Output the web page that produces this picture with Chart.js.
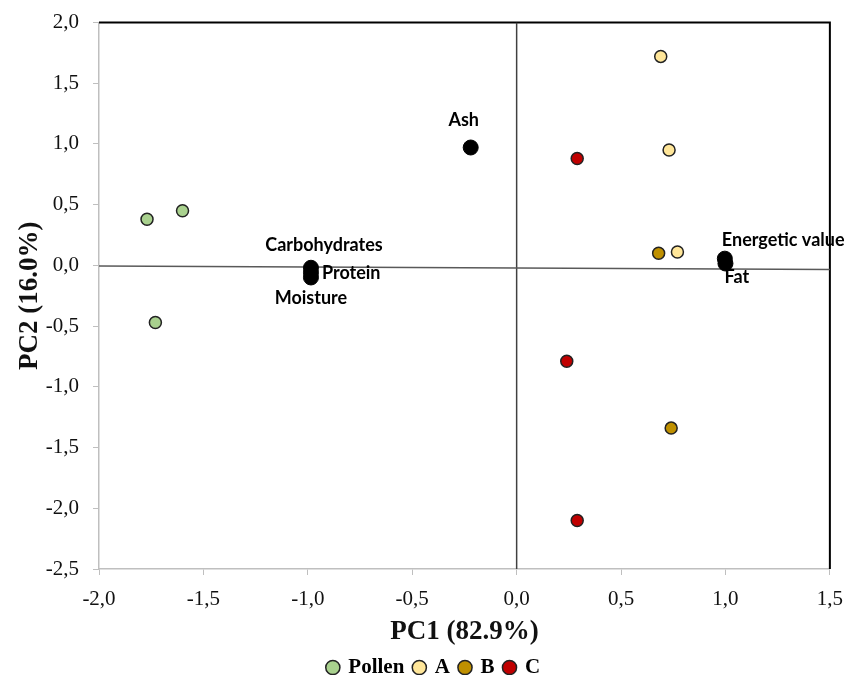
<!DOCTYPE html>
<html>
<head>
<meta charset="utf-8">
<script src="https://cdn.jsdelivr.net/npm/chart.js@4.4.1/dist/chart.umd.min.js"></script>
<style>
  html, body { margin: 0; padding: 0; background: #fff; }
  #wrap { width: 855px; height: 675px; }
</style>
</head>
<body>
<div id="wrap"><canvas id="pca" width="855" height="675"></canvas></div>
<script>
// sample scores (PC1, PC2)
const pollenX = [-1.77, -1.60, -1.73];
const pollenY = [0.38, 0.45, -0.47];
const aX = [0.69, 0.73, 0.77];
const aY = [1.72, 0.95, 0.11];
const bX = [0.68, 0.74];
const bY = [0.10, -1.34];
const cX = [0.29, 0.24, 0.29];
const cY = [0.88, -0.79, -2.10];

// variable loadings
const varNames = ["Ash", "Carbohydrates", "Protein", "Moisture", "Energetic value", "Fat"];
const varX = [-0.22, -0.985, -0.985, -0.985, 0.997, 1.0];
const varY = [0.97, -0.02, -0.06, -0.10, 0.055, 0.015];

const xTicks = [-2.0, -1.5, -1.0, -0.5, 0.0, 0.5, 1.0, 1.5];
const yTicks = [2.0, 1.5, 1.0, 0.5, 0.0, -0.5, -1.0, -1.5, -2.0, -2.5];

function pts(xs, ys) {
  return xs.map((x, i) => ({ x: x, y: ys[i] }));
}

function comma(v) {
  return v.toFixed(1).replace(".", ",");
}

// label placement around each loading point: [dx, dy, align]
const labelPos = [
  [-7, -27, "center"],
  [13, -23, "center"],
  [11, 1, "left"],
  [0, 21, "center"],
  [-3, -18, "left"],
  [-1, 14, "left"]
];

const serif = "'Liberation Serif', 'Times New Roman', serif";
const sans = "Lato, 'Open Sans', sans-serif";

const loadingLabels = {
  id: "loadingLabels",
  afterDatasetsDraw(chart) {
    const ctx = chart.ctx;
    const idx = chart.data.datasets.findIndex(d => d.label === "Variables");
    const meta = chart.getDatasetMeta(idx);
    ctx.save();
    ctx.font = "bold 18px " + sans;
    ctx.fillStyle = "#000";
    ctx.textBaseline = "middle";
    meta.data.forEach((el, i) => {
      const p = labelPos[i];
      ctx.textAlign = p[2];
      ctx.fillText(varNames[i], el.x + p[0], el.y + p[1]);
    });
    ctx.restore();
  }
};

// black frame on top and right of the plot area
const frame = {
  id: "frame",
  beforeDatasetsDraw(chart) {
    const a = chart.chartArea;
    const ctx = chart.ctx;
    ctx.save();
    ctx.strokeStyle = "#000";
    ctx.lineWidth = 2;
    ctx.beginPath();
    ctx.moveTo(a.left, a.top);
    ctx.lineTo(a.right, a.top);
    ctx.lineTo(a.right, a.bottom);
    ctx.stroke();
    ctx.restore();
  }
};

const pointStyle = (color) => ({
  backgroundColor: color,
  borderColor: "#222",
  borderWidth: 1.5,
  pointRadius: 6,
  pointHoverRadius: 6,
  showLine: false,
  order: 1
});

new Chart(document.getElementById("pca"), {
  type: "scatter",
  data: {
    datasets: [
      Object.assign({ label: "Pollen", data: pts(pollenX, pollenY) }, pointStyle("#a9d18e")),
      Object.assign({ label: "A", data: pts(aX, aY) }, pointStyle("#ffe699")),
      Object.assign({ label: "B", data: pts(bX, bY) }, pointStyle("#bf9000")),
      Object.assign({ label: "C", data: pts(cX, cY) }, pointStyle("#c00000")),
      {
        label: "Variables",
        data: pts(varX, varY),
        backgroundColor: "#000",
        borderColor: "#000",
        pointRadius: 7.5,
        showLine: false,
        order: 0
      },
      {
        label: "hline",
        data: [{ x: -2.0, y: -0.005 }, { x: 1.5, y: -0.035 }],
        showLine: true,
        borderColor: "#595959",
        borderWidth: 1.5,
        pointRadius: 0,
        order: 5
      },
      {
        label: "vline",
        data: [{ x: 0, y: 2.0 }, { x: 0, y: -2.5 }],
        showLine: true,
        borderColor: "#404040",
        borderWidth: 1.5,
        pointRadius: 0,
        order: 5
      }
    ]
  },
  options: {
    responsive: false,
    animation: false,
    layout: { padding: { top: 8, right: 25, left: 38, bottom: -13 } },
    plugins: {
      tooltip: { enabled: false },
      legend: {
        position: "bottom",
        labels: {
          filter: (item) => ["Pollen", "A", "B", "C"].includes(item.text),
          usePointStyle: true,
          pointStyle: "circle",
          boxWidth: 10,
          boxHeight: 10,
          padding: 10,
          color: "#000",
          font: { family: serif, size: 21, weight: "bold" }
        }
      }
    },
    scales: {
      x: {
        type: "linear",
        min: -2.0,
        max: 1.5,
        afterBuildTicks: (s) => { s.ticks = xTicks.map(v => ({ value: v })); },
        afterFit: (s) => { s.height = 78; },
        border: { color: "#bfbfbf", width: 1.5 },
        grid: { drawOnChartArea: false, drawTicks: true, tickLength: 6, color: "#bfbfbf" },
        ticks: {
          callback: (v) => comma(v),
          color: "#111",
          padding: 12,
          maxRotation: 0,
          font: { family: serif, size: 21 }
        },
        title: {
          display: true,
          text: "PC1 (82.9%)",
          color: "#111",
          padding: { top: 0, bottom: -1 },
          font: { family: serif, size: 27, weight: "bold" }
        }
      },
      y: {
        type: "linear",
        min: -2.5,
        max: 2.0,
        afterBuildTicks: (s) => { s.ticks = yTicks.map(v => ({ value: v })); },
        afterFit: (s) => { s.width = 61; },
        border: { color: "#bfbfbf", width: 1.5 },
        grid: { drawOnChartArea: false, drawTicks: true, tickLength: 6, color: "#bfbfbf" },
        ticks: {
          callback: (v) => comma(v),
          color: "#111",
          padding: 14,
          font: { family: serif, size: 21, lineHeight: 0.8 }
        },
        title: {
          display: true,
          text: "PC2 (16.0%)",
          color: "#111",
          padding: { top: -24, bottom: 0 },
          font: { family: serif, size: 27, weight: "bold" }
        }
      }
    }
  },
  plugins: [frame, loadingLabels]
});
</script>
</body>
</html>
